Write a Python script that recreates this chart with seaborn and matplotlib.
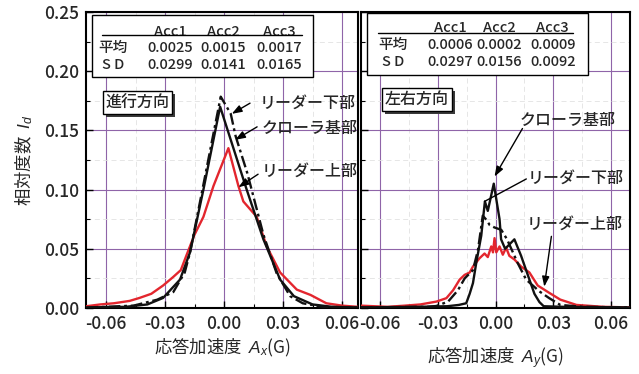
import matplotlib
matplotlib.use("Agg")
import matplotlib.pyplot as plt
from matplotlib.patches import Rectangle
from matplotlib.ticker import MultipleLocator, FormatStrFormatter
import pandas as pd
import seaborn as sns

sns.set_theme(style="ticks")
plt.rcParams["font.family"] = ["Noto Sans CJK JP", "DejaVu Sans"]
plt.rcParams["font.weight"] = "medium"
plt.rcParams["mathtext.fontset"] = "custom"
plt.rcParams["mathtext.it"] = "Liberation Sans:italic"
plt.rcParams["mathtext.rm"] = "Liberation Sans"

# ---- series names ----
acc_names = ["Acc1", "Acc2", "Acc3"]
part_names = ["リーダー上部", "リーダー下部", "クローラ基部"]

# ---- 進行方向 (Ax) relative frequency curves ----
ax1_acc1_a = [-0.070, -0.063, -0.056, -0.048, -0.043, -0.037, -0.031, -0.026, -0.022,
              -0.019, -0.015, -0.0105, -0.0054, 0.0022, 0.0073, 0.0098, 0.0166, 0.0217,
              0.0285, 0.037, 0.044, 0.052, 0.060, 0.068]
ax1_acc1_i = [0.0015, 0.003, 0.004, 0.006, 0.0085, 0.012, 0.019, 0.026, 0.032,
              0.045, 0.062, 0.077, 0.103, 0.135, 0.103, 0.090, 0.077, 0.052,
              0.030, 0.0155, 0.011, 0.004, 0.002, 0.001]

ax1_acc2_a = [-0.070, -0.046, -0.034, -0.0258, -0.020, -0.0173, -0.011, -0.0017, 0.0034,
              0.0059, 0.0118, 0.020, 0.0268, 0.0336, 0.040, 0.050, 0.068]
ax1_acc2_i = [0.0003, 0.002, 0.007, 0.0135, 0.030, 0.047, 0.100, 0.1785, 0.164,
              0.145, 0.114, 0.062, 0.029, 0.010, 0.004, 0.001, 0.0003]

ax1_acc3_a = [-0.070, -0.050, -0.039, -0.031, -0.0224, -0.0173, -0.0105, -0.002, 0.0115,
              0.020, 0.0285, 0.0355, 0.045, 0.055, 0.068]
ax1_acc3_i = [0.0005, 0.001, 0.003, 0.0085, 0.024, 0.047, 0.100, 0.170, 0.100,
              0.058, 0.024, 0.010, 0.003, 0.001, 0.0005]

# ---- 左右方向 (Ay) relative frequency curves ----
ay_acc1_a = [-0.070, -0.056, -0.047, -0.039, -0.0307, -0.0255, -0.022, -0.0186, -0.016,
             -0.0134, -0.0117, -0.0083, -0.0057, -0.0040, -0.0022, -0.0013, -0.0005,
             0.0004, 0.0021, 0.0038, 0.0055, 0.0072, 0.0098, 0.0133, 0.0176, 0.0219,
             0.0279, 0.0336, 0.042, 0.056, 0.070]
ay_acc1_i = [0.002, 0.001, 0.002, 0.003, 0.0054, 0.0083, 0.015, 0.024, 0.028,
             0.030, 0.035, 0.042, 0.046, 0.043, 0.052, 0.047, 0.059,
             0.047, 0.052, 0.045, 0.051, 0.044, 0.041, 0.035, 0.030, 0.019,
             0.0128, 0.0071, 0.0026, 0.001, 0.0005]

ay_acc2_a = [-0.070, -0.035, -0.0307, -0.0246, -0.0195, -0.016, -0.0117, -0.0091,
             -0.0066, -0.0045, -0.003, -0.0005, 0.003, 0.006, 0.0115, 0.0159, 0.0228,
             0.0279, 0.0336, 0.045, 0.070]
ay_acc2_i = [0.0005, 0.001, 0.0017, 0.0054, 0.015, 0.025, 0.032, 0.049,
             0.078, 0.074, 0.070, 0.068, 0.066, 0.058, 0.038, 0.024, 0.014,
             0.0083, 0.0026, 0.001, 0.0005]

ay_acc3_a = [-0.070, -0.040, -0.025, -0.019, -0.0152, -0.0134, -0.0117, -0.0100,
             -0.0074, -0.0055, -0.0040, -0.0009, 0.0021, 0.0029, 0.0050, 0.0098,
             0.0133, 0.0176, 0.0202, 0.0228, 0.025, 0.035, 0.070]
ay_acc3_i = [0.0005, 0.001, 0.0015, 0.0026, 0.004, 0.012, 0.021, 0.038,
             0.061, 0.090, 0.082, 0.105, 0.075, 0.058, 0.050, 0.058,
             0.044, 0.024, 0.012, 0.005, 0.0015, 0.001, 0.0005]

# ---- summary statistics tables ----
ax_mean = [0.0025, 0.0015, 0.0017]
ax_sd = [0.0299, 0.0141, 0.0165]
ay_mean = [0.0006, 0.0002, 0.0009]
ay_sd = [0.0297, 0.0156, 0.0092]

x_ticks = [-0.06, -0.03, 0.00, 0.03, 0.06]
y_ticks = [0.00, 0.05, 0.10, 0.15, 0.20, 0.25]


def long_frame(curves):
    frames = []
    for name, (a, i) in zip(acc_names, curves):
        frames.append(pd.DataFrame({"A": a, "I": i, "series": name}))
    return pd.concat(frames, ignore_index=True)


df_x = long_frame([(ax1_acc1_a, ax1_acc1_i), (ax1_acc2_a, ax1_acc2_i), (ax1_acc3_a, ax1_acc3_i)])
df_y = long_frame([(ay_acc1_a, ay_acc1_i), (ay_acc2_a, ay_acc2_i), (ay_acc3_a, ay_acc3_i)])

palette = {"Acc1": "#e3262e", "Acc2": "#111111", "Acc3": "#111111"}
dashes = {"Acc1": "", "Acc2": (5, 1.6, 1.2, 1.6), "Acc3": ""}
grid_col = "#8f64a8"

W, H = 639, 374
fig = plt.figure(figsize=(W / 100, H / 100), dpi=100)
axL = fig.add_axes([86 / W, 66 / H, 272 / W, 296 / H])
axR = fig.add_axes([361 / W, 66 / H, 269 / W, 296 / H])

for ax, df, xlim in ((axL, df_x, (-0.0702, 0.0681)), (axR, df_y, (-0.0698, 0.0698))):
    sns.lineplot(data=df, x="A", y="I", hue="series", style="series",
                 palette=palette, dashes=dashes, estimator=None, sort=False,
                 linewidth=1.7, legend=False, ax=ax, zorder=3)
    ax.set_xlim(*xlim)
    ax.set_ylim(0, 0.25)
    ax.set_xticks(x_ticks)
    ax.set_yticks(y_ticks)
    ax.xaxis.set_minor_locator(MultipleLocator(0.015))
    ax.yaxis.set_minor_locator(MultipleLocator(0.025))
    ax.xaxis.set_major_formatter(FormatStrFormatter("%.2f"))
    ax.yaxis.set_major_formatter(FormatStrFormatter("%.2f"))
    ax.grid(True, which="major", color=grid_col, linewidth=0.8, zorder=0)
    ax.grid(True, which="minor", color="#e2e2e2", linewidth=0.6, linestyle=(0, (6, 4)), zorder=0)
    ax.set_axisbelow(True)
    ax.tick_params(which="both", direction="in", color="black", top=False, right=False)
    ax.tick_params(which="major", length=5, width=1.0, labelsize=12.5, pad=5)
    ax.tick_params(which="minor", length=3, width=0.8)
    for sp in ax.spines.values():
        sp.set_linewidth(1.5)
        sp.set_color("black")
    ax.set_ylabel("")

axR.tick_params(axis="y", labelleft=False)

axL.set_ylabel("相対度数  $I_d$", fontsize=12.5, labelpad=6)
axL.set_xlabel("応答加速度  $A_x$(G)", fontsize=12.5, labelpad=3)
axR.set_xlabel("応答加速度  $A_y$(G)", fontsize=12.5, labelpad=9)


def stats_table(ax, box, cols_x, head_y, line, row_y, label_x, means, sds):
    x0, y0, x1, y1 = box
    ax.add_patch(Rectangle((x0, y0), x1 - x0, y1 - y0, transform=ax.transAxes,
                           facecolor="white", edgecolor="black", linewidth=1.0,
                           zorder=6, clip_on=False))
    for cx, name in zip(cols_x, acc_names):
        ax.text(cx, head_y, name, transform=ax.transAxes, ha="center", va="center",
                fontsize=10.5, zorder=7)
    ax.plot([line[0], line[1]], [line[2], line[2]], transform=ax.transAxes,
            color="black", linewidth=1.0, zorder=7, clip_on=False)
    ax.text(label_x, row_y[0], "平均", transform=ax.transAxes, ha="center", va="center",
            fontsize=10.5, zorder=7)
    ax.text(label_x, row_y[1], "S D", transform=ax.transAxes, ha="center", va="center",
            fontsize=10.5, zorder=7)
    for cx, m, s in zip(cols_x, means, sds):
        ax.text(cx, row_y[0], f"{m:.4f}", transform=ax.transAxes, ha="center", va="center",
                fontsize=10.5, zorder=7)
        ax.text(cx, row_y[1], f"{s:.4f}", transform=ax.transAxes, ha="center", va="center",
                fontsize=10.5, zorder=7)


stats_table(axL, (0.021, 0.781, 0.836, 0.990), (0.309, 0.504, 0.710), 0.933,
            (0.058, 0.793, 0.921), (0.877, 0.821), 0.099, ax_mean, ax_sd)
stats_table(axR, (0.021, 0.787, 0.845, 0.996), (0.331, 0.513, 0.713), 0.945,
            (0.063, 0.788, 0.928), (0.889, 0.832), 0.119, ay_mean, ay_sd)


def direction_box(ax, x, y, s):
    # dark drop shadow: a filled rectangle offset down-right behind the framed label
    label = ax.text(x, y, s, transform=ax.transAxes, ha="center", va="center", fontsize=11.5,
                    zorder=7, bbox=dict(boxstyle="square,pad=0.18", fc="white", ec="black", lw=1.0))
    fig.canvas.draw()
    bb = label.get_bbox_patch().get_window_extent()
    inv = ax.transAxes.inverted()
    (x0, y0), (x1, y1) = inv.transform([[bb.x0 + 3, bb.y0 - 3], [bb.x1 + 3, bb.y1 - 3]])
    ax.add_patch(Rectangle((x0, y0), x1 - x0, y1 - y0, transform=ax.transAxes,
                           facecolor="#3a3a3a", edgecolor="none", zorder=6))


direction_box(axL, 0.189, 0.693, "進行方向")
direction_box(axR, 0.207, 0.704, "左右方向")


def callout(ax, text_xy, s, tail, head, with_head=True):
    ax.text(text_xy[0], text_xy[1], s, ha="left", va="center", fontsize=11.5, zorder=8)
    style = "-|>,head_length=0.5,head_width=0.18" if with_head else "-"
    ax.annotate("", xy=head, xytext=tail, zorder=8,
                arrowprops=dict(arrowstyle=style, color="black", lw=1.0,
                                shrinkA=0, shrinkB=0))


callout(axL, (0.0183, 0.173), "リーダー下部", (0.0132, 0.173), (0.0039, 0.164))
callout(axL, (0.0193, 0.152), "クローラ基部", (0.0168, 0.153), (0.0056, 0.142))
callout(axL, (0.0193, 0.1157), "リーダー上部", (0.0173, 0.113), (0.0073, 0.102))

callout(axR, (0.0124, 0.1584), "クローラ基部", (0.014, 0.1516), (-0.0005, 0.111))
callout(axR, (0.0166, 0.110), "リーダー下部", (0.016, 0.109), (-0.0057, 0.090), with_head=False)
callout(axR, (0.016, 0.0707), "リーダー上部", (0.029, 0.0605), (0.0253, 0.018))

fig.savefig("out.png", dpi=100)
